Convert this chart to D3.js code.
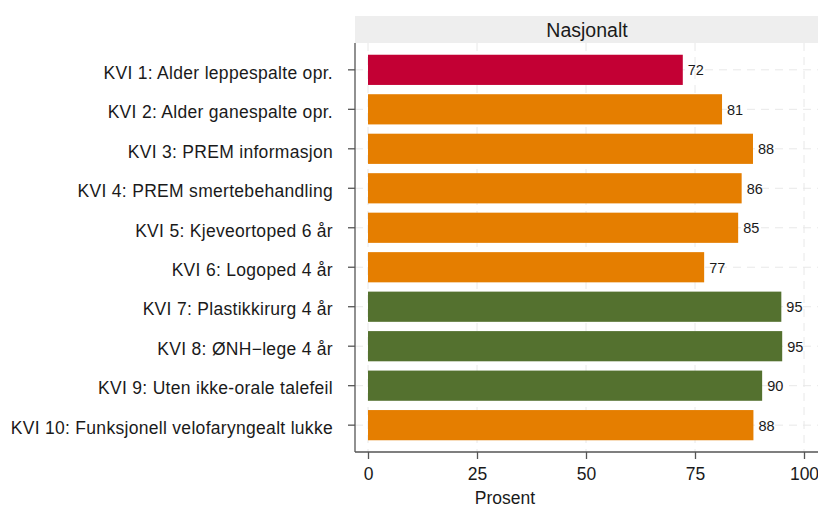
<!DOCTYPE html>
<html>
<head>
<meta charset="utf-8">
<script src="https://cdn.jsdelivr.net/npm/d3@7"></script>
<style>
  html, body { margin: 0; padding: 0; background: #fff; }
  svg { display: block; font-family: "Liberation Sans", Arial, sans-serif; }
</style>
</head>
<body>
<svg id="chart" width="818" height="507"></svg>
<script>
const categories = [
  "KVI 1: Alder leppespalte opr.",
  "KVI 2: Alder ganespalte opr.",
  "KVI 3: PREM informasjon",
  "KVI 4: PREM smertebehandling",
  "KVI 5: Kjeveortoped 6 år",
  "KVI 6: Logoped 4 år",
  "KVI 7: Plastikkirurg 4 år",
  "KVI 8: ØNH\u2212lege 4 år",
  "KVI 9: Uten ikke-orale talefeil",
  "KVI 10: Funksjonell velofaryngealt lukke"
];
const values = [72.2, 81.2, 88.3, 85.7, 84.9, 77.1, 94.8, 95.0, 90.4, 88.4];
const levels = ["lav", "middels", "middels", "middels", "middels", "middels", "høy", "høy", "høy", "middels"];
const levelNames = ["lav", "middels", "høy"];
const levelColors = ["#c30034", "#e57e00", "#54712f"];
const xTicks = [0, 25, 50, 75, 100];
const panelTitle = "Nasjonalt";
const xTitle = "Prosent";

const svg = d3.select("#chart");
const pLeft = 355, pRight = 830, pTop = 43, pBottom = 452;
const font = "Liberation Sans, Arial, sans-serif";

const x = d3.scaleLinear().domain([0, 100]).range([368, 804]);
const y = d3.scaleBand().domain(categories).range([pTop + 7, pBottom - 7]).paddingInner(0.235).paddingOuter(0.12);
const color = d3.scaleOrdinal().domain(levelNames).range(levelColors);

// strip
svg.append("rect").attr("x", pLeft).attr("y", 16).attr("width", pRight - pLeft).attr("height", pTop - 16).attr("fill", "#eeeeee");
svg.append("text").attr("x", 587).attr("y", 36.5).attr("text-anchor", "middle")
  .attr("font-size", 19.5).attr("fill", "#1a1a1a").text(panelTitle);

// grid
const g = svg.append("g");
g.selectAll(".vg").data(xTicks).join("line")
  .attr("x1", d => x(d)).attr("x2", d => x(d)).attr("y1", pTop).attr("y2", pBottom)
  .attr("stroke", "#e8e8e8").attr("stroke-width", 1).attr("stroke-dasharray", "8,6");
g.selectAll(".hg").data(categories).join("line")
  .attr("x1", pLeft).attr("x2", pRight)
  .attr("y1", d => y(d) + y.bandwidth() / 2).attr("y2", d => y(d) + y.bandwidth() / 2)
  .attr("stroke", "#e8e8e8").attr("stroke-width", 1).attr("stroke-dasharray", "8,6");

// bars
svg.selectAll(".bar").data(categories).join("rect")
  .attr("x", x(0)).attr("y", d => y(d))
  .attr("width", (d, i) => x(values[i]) - x(0)).attr("height", y.bandwidth())
  .attr("fill", (d, i) => color(levels[i]));

svg.selectAll(".val").data(categories).join("text")
  .attr("x", (d, i) => x(values[i]) + 5).attr("y", d => y(d) + y.bandwidth() / 2 + 5.5)
  .attr("font-size", 14.5).attr("fill", "#1a1a1a")
  .text((d, i) => d3.format(".0f")(values[i]));

// axes
const yAxis = svg.append("g").attr("transform", `translate(${pLeft},0)`)
  .call(d3.axisLeft(y).tickSize(7).tickPadding(15));
yAxis.select(".domain").attr("d", `M0,${pTop}V${pBottom}`).attr("stroke", "#555").attr("stroke-width", 1.3);
yAxis.selectAll(".tick line").attr("stroke", "#555").attr("stroke-width", 1.3);
yAxis.selectAll(".tick text").attr("font-size", 17.5).attr("fill", "#1a1a1a").attr("dy", "0.5em")
  .attr("letter-spacing", 0.3).style("font-family", font);

const xAxis = svg.append("g").attr("transform", `translate(0,${pBottom})`)
  .call(d3.axisBottom(x).tickValues(xTicks).tickSize(7).tickPadding(9));
xAxis.select(".domain").attr("d", `M${pLeft},0H${pRight}`).attr("stroke", "#555").attr("stroke-width", 1.3);
xAxis.selectAll(".tick line").attr("stroke", "#555").attr("stroke-width", 1.3);
xAxis.selectAll(".tick text").attr("font-size", 17.5).attr("fill", "#1a1a1a")
  .style("font-family", font);

svg.append("text").attr("x", 505).attr("y", 504).attr("text-anchor", "middle")
  .attr("font-size", 17.5).attr("fill", "#1a1a1a").text(xTitle);
</script>
</body>
</html>
